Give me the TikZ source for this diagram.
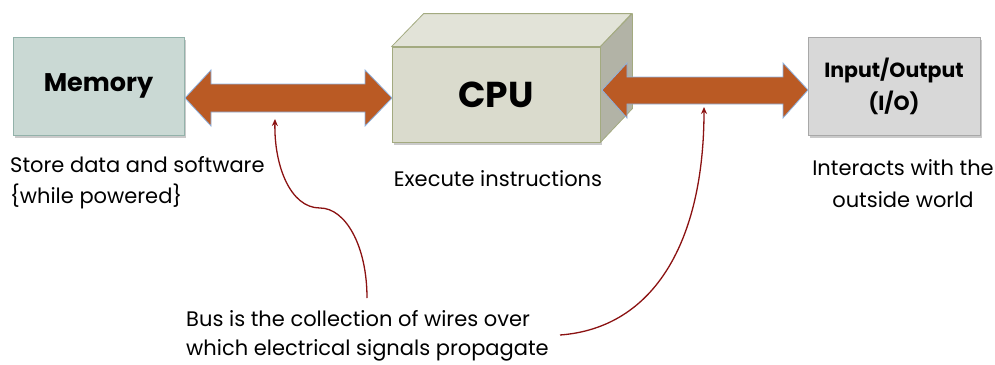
\documentclass[tikz,border=0pt]{standalone}
\usepackage{fontspec}
\setmainfont{Poppins}
\usetikzlibrary{arrows.meta,shadows}

\definecolor{memfill}{HTML}{CAD9D4}
\definecolor{memline}{HTML}{93B2AA}
\definecolor{cpufront}{HTML}{DADBCD}
\definecolor{cputop}{HTML}{E2E3D8}
\definecolor{cpuside}{HTML}{B2B3A6}
\definecolor{cpuline}{HTML}{A3AA80}
\definecolor{iofill}{HTML}{D8D8D8}
\definecolor{ioline}{HTML}{A8A8A8}
\definecolor{busfill}{HTML}{BA5A24}
\definecolor{busline}{HTML}{8DB3E2}
\definecolor{pointer}{HTML}{8B1212}

\tikzset{
  unit/.style={draw, line width=0.8pt, inner sep=0pt,
    drop shadow={shadow xshift=1.5pt, shadow yshift=-2.5pt, opacity=0.35, fill=black!60}},
  bus/.style={fill=busfill, draw=busline, line width=0.8pt, line join=miter},
  caption/.style={inner sep=0pt, font=\fontsize{21}{24}\selectfont, align=center},
  pointer/.style={draw=pointer, line width=1.3pt,
    -{Stealth[length=7pt,width=6pt]}}
}

\begin{document}
\begin{tikzpicture}[x=1pt,y=-1pt]
\useasboundingbox (0,0) rectangle (995,364);

% memory unit
\node[unit, draw=memline, fill=memfill, minimum width=171pt, minimum height=98pt,
      font=\fontsize{25.5}{28}\selectfont\bfseries] (mem) at (98.5,86) {Memory};

% CPU block drawn as a box: front face plus top and side faces
\node[unit, draw=cpuline, fill=cpufront, minimum width=208pt, minimum height=95pt,
      font=\fontsize{36}{40}\selectfont\bfseries] (cpu) at (496,94.5) {CPU};
\filldraw[draw=cpuline, fill=cputop, line width=0.8pt, line join=round]
  (cpu.north west) -- ++(32,-33) -- ++(208,0) -- (cpu.north east) -- cycle;
\filldraw[draw=cpuline, fill=cpuside, line width=0.8pt, line join=round]
  (cpu.north east) -- ++(32,-33) -- ++(0,95) -- (cpu.south east) -- cycle;

% input/output unit
\node[unit, draw=ioline, fill=iofill, minimum width=172pt, minimum height=98pt,
      align=center, font=\fontsize{20.5}{33}\selectfont\bfseries] (io) at (894,86)
      {Input/Output\\(I/O)};

% bus between memory and CPU
\coordinate (busA) at (274,112);
\filldraw[bus] (185,98) -- (211,70) -- (211,84) -- (365,84) -- (365,70)
  -- (392,98) -- (365,126) -- (365,112) -- (211,112) -- (211,126) -- cycle;

% bus between CPU and input/output
\coordinate (busB) at (705,104);
\filldraw[bus] (602,90) -- (627,63) -- (627,77) -- (783,77) -- (783,63)
  -- (808,90) -- (783,118) -- (783,104) -- (627,104) -- (627,118) -- cycle;

% captions
\node[caption, anchor=base west, align=left] (memtxt) at (10,172)
  {Store data and software};
\node[caption, anchor=base west, align=left] (memtxt2) at (10,203)
  {\{while powered\}};
\node[caption, anchor=base] (cputxt) at (498,186) {Execute instructions};
\node[caption, anchor=base] (iotxt) at (903,175) {Interacts with the};
\node[caption, anchor=base] (iotxt2) at (903,207) {outside world};
\node[caption, anchor=base west] (bustxt) at (186,326)
  {Bus is the collection of wires over};
\node[caption, anchor=base west] (bustxt2) at (186,355)
  {which electrical signals propagate};

% pointers from the bus note to both buses
\coordinate (noteA) at (367,298);
\coordinate (noteB) at (560,335);
\draw[pointer] (noteA) .. controls (367,245) and (345,208) .. (320,208)
  .. controls (290,208) and (274,165) .. (275,119);
\draw[pointer] (noteB) .. controls (655,328) and (704,240) .. (704,107);
\end{tikzpicture}
\end{document}
